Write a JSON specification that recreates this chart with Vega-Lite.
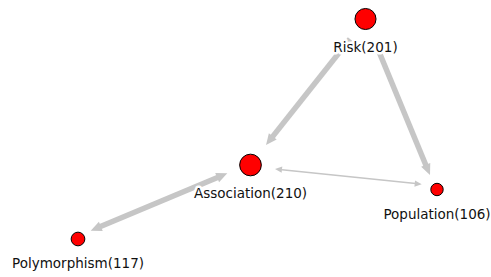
{
  "$schema": "https://vega.github.io/schema/vega-lite/v6.json",
  "width": 491,
  "height": 277,
  "autosize": "none",
  "padding": 0,
  "background": "white",
  "config": {"view": {"stroke": null}},
  "datasets": {
    "nodes": [
      {"name": "Risk", "label": "Risk(201)", "x": 365.5, "y": 19, "count": 201},
      {"name": "Association", "label": "Association(210)", "x": 250.5, "y": 165, "count": 210},
      {"name": "Population", "label": "Population(106)", "x": 437, "y": 189.5, "count": 106},
      {"name": "Polymorphism", "label": "Polymorphism(117)", "x": 78, "y": 239, "count": 117}
    ],
    "edges": [
      {"source": "Risk", "target": "Association", "x": 350, "y": 39, "x2": 272.2, "y2": 137.1, "weight": 5},
      {"source": "Risk", "target": "Population", "x": 375, "y": 42, "x2": 426.1, "y2": 165.8, "weight": 5},
      {"source": "Polymorphism", "target": "Association", "x": 99.9, "y": 226.8, "x2": 218.1, "y2": 177.2, "weight": 5},
      {"source": "Association", "target": "Population", "x": 282, "y": 169.7, "x2": 415.7, "y2": 183.5, "weight": 1}
    ],
    "arrows": [
      {"edge": "Risk-Association", "x": 266, "y": 145, "angle": 218.1, "weight": 5},
      {"edge": "Risk-Population", "x": 430, "y": 175, "angle": 157.0, "weight": 5},
      {"edge": "Polymorphism-Association", "x": 227.3, "y": 173.3, "angle": 67.2, "weight": 5},
      {"edge": "Association-Polymorphism", "x": 90.7, "y": 230.7, "angle": 247.2, "weight": 5},
      {"edge": "Association-Population", "x": 421.7, "y": 184.3, "angle": 96.0, "weight": 1},
      {"edge": "Population-Association", "x": 275, "y": 169, "angle": 276.0, "weight": 1}
    ]
  },
  "layer": [
    {
      "data": {"name": "edges"},
      "mark": {"type": "rule", "color": "#c6c6c6"},
      "encoding": {
        "x": {"field": "x", "type": "quantitative", "scale": {"domain": [0, 491], "nice": false, "zero": false}, "axis": null},
        "y": {"field": "y", "type": "quantitative", "scale": {"domain": [0, 277], "nice": false, "zero": false, "reverse": true}, "axis": null},
        "x2": {"field": "x2"},
        "y2": {"field": "y2"},
        "strokeWidth": {"field": "weight", "type": "quantitative", "scale": {"domain": [1, 5], "range": [1.5, 5.5]}, "legend": null}
      }
    },
    {
      "data": {"name": "arrows"},
      "mark": {"type": "point", "shape": "M0,0L-0.45,1L0.45,1Z", "filled": true, "color": "#c6c6c6", "opacity": 1, "strokeWidth": 0},
      "encoding": {
        "x": {"field": "x", "type": "quantitative"},
        "y": {"field": "y", "type": "quantitative"},
        "angle": {"field": "angle", "type": "quantitative", "scale": null},
        "size": {"field": "weight", "type": "quantitative", "scale": {"domain": [1, 5], "range": [196, 484]}, "legend": null}
      }
    },
    {
      "data": {"name": "nodes"},
      "transform": [{"filter": "datum.count > 150"}],
      "mark": {"type": "text", "font": "DejaVu Sans", "fontSize": 13.5, "dy": 33, "baseline": "alphabetic", "align": "center", "stroke": "white", "strokeWidth": 5, "strokeJoin": "round", "fill": "white"},
      "encoding": {
        "x": {"field": "x", "type": "quantitative"},
        "y": {"field": "y", "type": "quantitative"},
        "text": {"field": "label"}
      }
    },
    {
      "data": {"name": "nodes"},
      "transform": [{"filter": "datum.count > 150"}],
      "mark": {"type": "text", "font": "DejaVu Sans", "fontSize": 13.5, "dy": 33, "baseline": "alphabetic", "align": "center", "color": "#111111"},
      "encoding": {
        "x": {"field": "x", "type": "quantitative"},
        "y": {"field": "y", "type": "quantitative"},
        "text": {"field": "label"}
      }
    },
    {
      "data": {"name": "nodes"},
      "transform": [{"filter": "datum.count <= 150"}],
      "mark": {"type": "text", "font": "DejaVu Sans", "fontSize": 13.5, "dy": 29, "baseline": "alphabetic", "align": "center", "stroke": "white", "strokeWidth": 5, "strokeJoin": "round", "fill": "white"},
      "encoding": {
        "x": {"field": "x", "type": "quantitative"},
        "y": {"field": "y", "type": "quantitative"},
        "text": {"field": "label"}
      }
    },
    {
      "data": {"name": "nodes"},
      "transform": [{"filter": "datum.count <= 150"}],
      "mark": {"type": "text", "font": "DejaVu Sans", "fontSize": 13.5, "dy": 29, "baseline": "alphabetic", "align": "center", "color": "#111111"},
      "encoding": {
        "x": {"field": "x", "type": "quantitative"},
        "y": {"field": "y", "type": "quantitative"},
        "text": {"field": "label"}
      }
    },
    {
      "data": {"name": "nodes"},
      "mark": {"type": "point", "shape": "circle", "filled": true, "fill": "#ff0000", "stroke": "#000000", "strokeWidth": 1, "opacity": 1},
      "encoding": {
        "x": {"field": "x", "type": "quantitative"},
        "y": {"field": "y", "type": "quantitative"},
        "size": {"field": "count", "type": "quantitative", "scale": {"domain": [106, 210], "range": [154, 470], "zero": false}, "legend": null}
      }
    }
  ],
  "resolve": {"scale": {"size": "independent", "strokeWidth": "independent"}}
}
